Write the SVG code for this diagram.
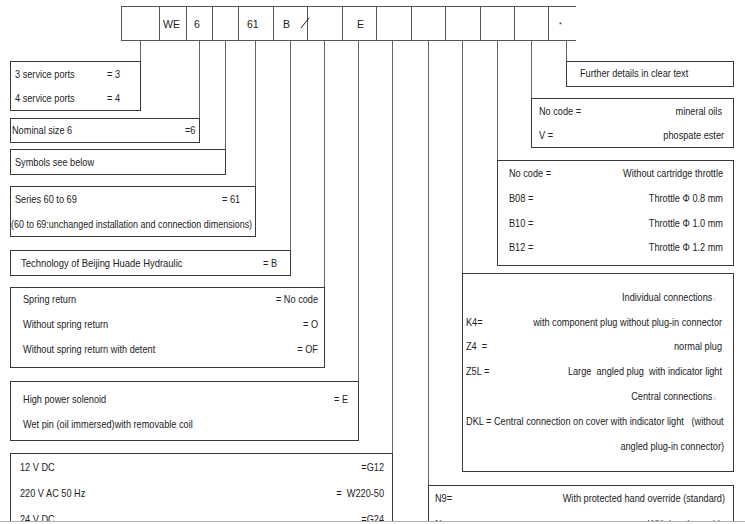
<svg xmlns="http://www.w3.org/2000/svg" width="745" height="524" viewBox="0 0 745 524">
<style>
.t{font-family:"Liberation Sans",Arial,sans-serif;font-size:10.5px;fill:#222;transform-box:fill-box;transform-origin:0% 50%;transform:scaleX(0.875)}
.e{text-anchor:end;transform-origin:100% 50%}
.h{font-size:11.5px;transform:scaleX(0.92)}
.b{fill:#fff;stroke:#3a3a3a;stroke-width:1}
.c{stroke:#666;stroke-width:1;fill:none}
.bar{stroke:#555;stroke-width:1;fill:none}
</style>
<rect width="745" height="524" fill="#fff"/>
<g id="codebar">
<path class="bar" d="M121,6.5H576M121,40.5H576M121.5,6V41M159.5,6V41M186.5,6V41M212.5,6V41M238.5,6V41M273.5,6V41M307.5,6V41M342.5,6V41M376.5,6V41M411.5,6V41M445.5,6V41M480.5,6V41M514.5,6V41M548.5,6V41"/>
<text class="t h" x="163" y="28">WE</text>
<text class="t h" x="194" y="28">6</text>
<text class="t h" x="247" y="28">61</text>
<text class="t h" x="283" y="28">B</text>
<line x1="301" y1="28" x2="309" y2="18" stroke="#222" stroke-width="1"/>
<text class="t h" x="357" y="28">E</text>
<text class="t" x="559" y="27" style="font-size:8px">*</text>
</g>
<g id="connectors">
<path class="c" d="M140.5,41V61M199.5,41V118M225.5,41V149M255.5,41V186M290.5,41V250M324.5,41V287M358.5,41V381M392.5,41V453M428.5,41V485M462.5,41V273M497.5,41V160M531.5,41V98M566.5,41V61"/>
</g>
<g id="ports">
<rect class="b" x="10.5" y="61.5" width="130" height="49"/>
<text class="t" x="15" y="78">3 service ports</text>
<text class="t" x="107" y="78">= 3</text>
<text class="t" x="15" y="102">4 service ports</text>
<text class="t" x="107" y="102">= 4</text>
</g>
<g id="nominal">
<rect class="b" x="10.5" y="118.5" width="189" height="24"/>
<text class="t" x="12" y="134">Nominal size 6</text>
<text class="t" x="185" y="134">=6</text>
</g>
<g id="symbols">
<rect class="b" x="10.5" y="149.5" width="215" height="25"/>
<text class="t" x="15" y="166">Symbols see below</text>
</g>
<g id="series">
<rect class="b" x="10.5" y="186.5" width="245" height="50"/>
<text class="t" x="15" y="203">Series 60 to 69</text>
<text class="t" x="222" y="203">= 61</text>
<text class="t" x="11" y="228" style="transform:scaleX(0.855)">(60 to 69:unchanged installation and connection dimensions)</text>
</g>
<g id="technology">
<rect class="b" x="10.5" y="250.5" width="280" height="25"/>
<text class="t" x="21" y="267" style="transform:scaleX(0.9)">Technology of Beijing Huade Hydraulic</text>
<text class="t" x="263" y="267">= B</text>
</g>
<g id="spring">
<rect class="b" x="10.5" y="287.5" width="314" height="80"/>
<text class="t" x="23" y="303">Spring return</text>
<text class="t e" x="318" y="303">= No code</text>
<text class="t" x="23" y="328">Without spring return</text>
<text class="t e" x="318" y="328">= O</text>
<text class="t" x="23" y="353">Without spring return with detent</text>
<text class="t e" x="318" y="353">= OF</text>
</g>
<g id="solenoid">
<rect class="b" x="10.5" y="381.5" width="348" height="59"/>
<text class="t" x="23" y="403">High power solenoid</text>
<text class="t" x="334" y="403">= E</text>
<text class="t" x="23" y="428">Wet pin (oil immersed)with removable coil</text>
</g>
<g id="voltage">
<rect class="b" x="10.5" y="453.5" width="382" height="80"/>
<text class="t" x="20" y="471">12 V DC</text>
<text class="t e" x="384" y="471">=G12</text>
<text class="t" x="20" y="497">220 V AC 50 Hz</text>
<text class="t e" x="384" y="497" xml:space="preserve">=  W220-50</text>
<text class="t" x="20" y="523">24 V DC</text>
<text class="t e" x="384" y="523">=G24</text>
</g>
<g id="details">
<rect class="b" x="566.5" y="61.5" width="167" height="25"/>
<text class="t" x="580" y="77">Further details in clear text</text>
</g>
<g id="fluid">
<rect class="b" x="531.5" y="98.5" width="202" height="49"/>
<text class="t" x="539" y="115">No code =</text>
<text class="t e" x="722" y="115">mineral oils</text>
<text class="t" x="539" y="139">V =</text>
<text class="t e" x="724" y="139">phospate ester</text>
</g>
<g id="throttle">
<rect class="b" x="497.5" y="160.5" width="236" height="105"/>
<text class="t" x="509" y="177">No code =</text>
<text class="t e" x="723" y="177">Without cartridge throttle</text>
<text class="t" x="509" y="202">B08 =</text>
<text class="t e" x="723" y="202">Throttle Φ 0.8 mm</text>
<text class="t" x="509" y="227">B10 =</text>
<text class="t e" x="723" y="227">Throttle Φ 1.0 mm</text>
<text class="t" x="509" y="251">B12 =</text>
<text class="t e" x="723" y="251">Throttle Φ 1.2 mm</text>
</g>
<g id="connections">
<rect class="b" x="462.5" y="273.5" width="271" height="198"/>
<text class="t e" x="718" y="301">Individual connections<tspan style="font-size:6px">：</tspan></text>
<text class="t" x="466" y="326">K4=</text>
<text class="t e" x="722" y="326">with component plug without plug-in connector</text>
<text class="t" x="466" y="350" xml:space="preserve">Z4  =</text>
<text class="t e" x="722" y="350">normal plug</text>
<text class="t" x="466" y="375">Z5L =</text>
<text class="t e" x="722" y="375" xml:space="preserve">Large  angled plug  with indicator light</text>
<text class="t e" x="718" y="400">Central connections<tspan style="font-size:6px">：</tspan></text>
<text class="t" x="466" y="425" xml:space="preserve">DKL = Central connection on cover with indicator light   (without</text>
<text class="t e" x="724" y="450">angled plug-in connector)</text>
</g>
<g id="override">
<rect class="b" x="428.5" y="485.5" width="305" height="50"/>
<text class="t" x="435" y="502">N9=</text>
<text class="t e" x="725" y="502">With protected hand override (standard)</text>
<text class="t" x="435" y="528">N=</text>
<text class="t e" x="725" y="528">With hand override</text>
</g>
<rect x="0" y="522" width="745" height="2" fill="#fff"/>
<line x1="0" y1="521.5" x2="745" y2="521.5" stroke="#b0b0b0" stroke-width="1"/>
</svg>
